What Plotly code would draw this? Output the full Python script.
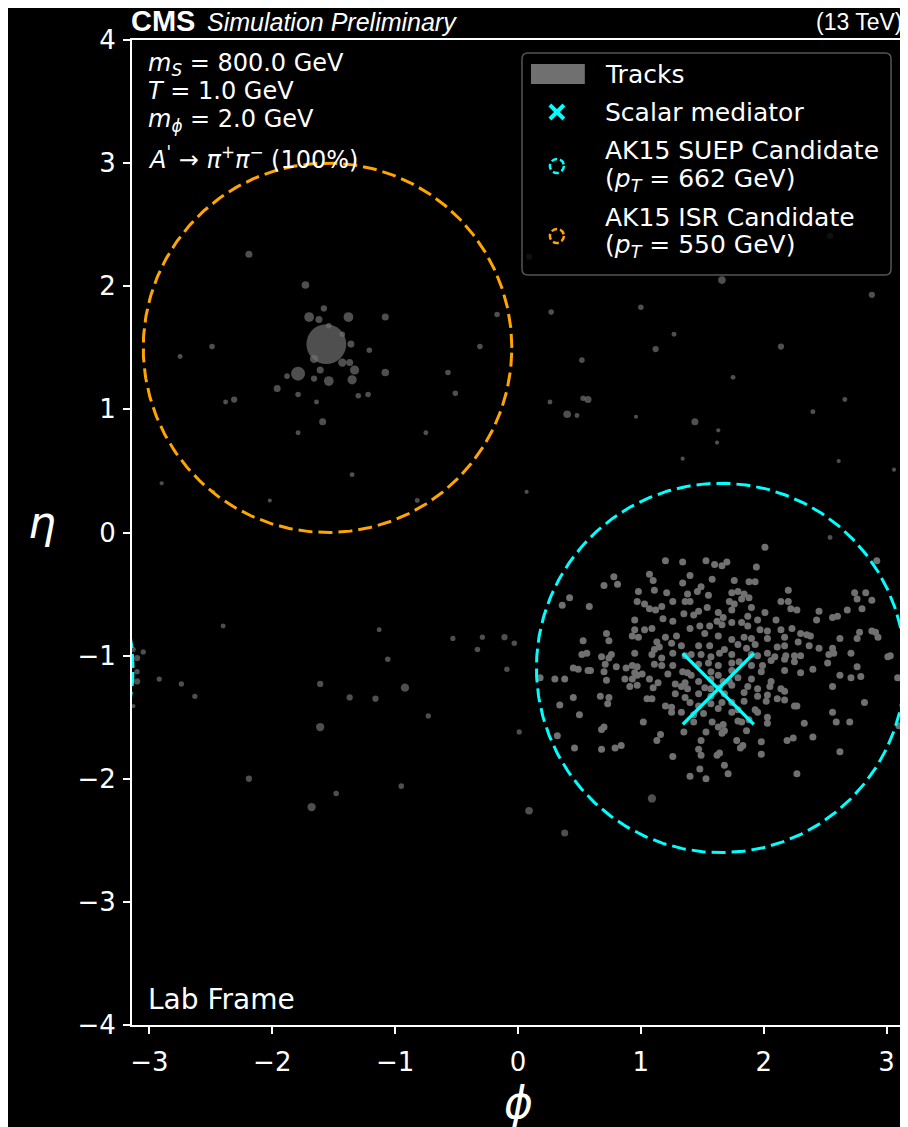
import numpy as np
import plotly.graph_objects as go

# ---------------- data ----------------
# dense SUEP track cluster (phi, eta)
suep_phi = [2.01,1.20,1.34,1.53,1.60,1.66,1.70,1.94,2.92,
 1.07,1.10,0.78,0.81,1.40,1.58,1.76,1.88,1.93,0.70,1.34,1.49,0.42,0.36,0.58,
 0.98,1.11,1.21,1.38,1.46,1.55,1.74,1.79,1.84,2.20,2.74,2.83,0.97,1.03,1.07,1.12,1.17,1.26,1.36,1.40,1.72,1.76,1.82,1.88,2.14,2.20,2.76,2.88,
 0.95,1.18,1.26,1.35,1.43,1.47,1.54,1.63,1.67,1.74,1.90,2.01,2.10,2.22,2.27,2.45,2.68,2.80,2.43,2.56,2.60,1.62,1.74,1.82,1.87,1.95,
 0.72,0.95,1.03,1.09,0.93,0.98,1.40,1.48,1.56,1.66,1.87,1.97,2.03,2.14,2.23,2.30,2.35,2.38,2.78,2.88,2.91,2.93,2.76,2.62,0.53,0.74,1.20,1.29,1.52,1.63,1.74,1.84,1.90,2.03,2.17,
 1.13,1.15,1.11,1.25,1.33,1.47,1.56,1.68,1.79,1.86,1.93,2.11,2.17,2.28,2.37,2.45,2.56,2.57,2.71,0.52,0.56,0.68,0.74,0.76,0.95,1.09,1.17,1.26,1.36,1.41,1.49,1.57,1.64,1.74,1.90,1.95,2.03,2.09,2.18,2.25,2.30,2.53,3.01,3.03,
 0.45,0.49,0.57,0.59,0.71,0.80,0.88,0.93,0.97,1.11,1.17,1.26,1.47,1.55,1.63,1.74,1.80,1.90,1.99,2.06,2.17,2.25,2.40,2.52,2.76,0.70,0.95,0.97,1.01,1.22,1.34,1.38,1.41,1.57,1.74,1.98,
 0.18,0.30,0.38,0.72,0.87,0.93,1.07,1.14,1.28,1.36,1.47,1.57,1.63,1.67,1.72,1.79,1.90,2.06,2.17,2.30,2.62,2.71,2.79,3.09,0.91,0.97,1.10,1.33,1.38,1.52,1.57,1.64,1.74,1.87,1.95,2.05,2.14,2.17,2.56,
 0.67,0.74,1.05,1.09,1.28,1.36,1.47,1.57,1.68,1.84,1.95,2.03,2.11,2.17,1.84,0.45,0.34,0.73,1.20,1.25,1.40,1.47,1.57,1.66,1.74,2.02,2.25,2.27,2.82,
 0.50,1.25,1.33,1.43,1.51,1.63,1.74,1.79,1.93,1.95,2.03,2.56,1.02,1.43,1.58,1.67,1.79,1.82,1.88,2.03,2.33,2.59,2.70,3.10,
 0.68,0.70,0.32,1.35,1.53,1.63,1.68,1.66,1.86,2.19,2.24,2.40,1.13,1.16,1.49,1.78,1.98,0.46,0.68,0.79,0.84,1.47,1.64,1.62,1.81,1.83,1.98,2.62,1.26,1.49,
 1.68,1.48,1.71,1.40,1.53,2.27]
suep_eta = [-0.12,-0.23,-0.24,-0.23,-0.26,-0.27,-0.24,-0.28,-0.23,
 -0.34,-0.39,-0.36,-0.42,-0.35,-0.38,-0.39,-0.40,-0.40,-0.43,-0.41,-0.44,-0.53,-0.59,-0.60,
 -0.48,-0.47,-0.49,-0.50,-0.48,-0.51,-0.49,-0.48,-0.50,-0.47,-0.49,-0.49,-0.56,-0.58,-0.62,-0.63,-0.60,-0.56,-0.56,-0.56,-0.56,-0.58,-0.54,-0.53,-0.56,-0.56,-0.54,-0.55,
 -0.71,-0.70,-0.72,-0.66,-0.67,-0.64,-0.61,-0.65,-0.69,-0.63,-0.61,-0.65,-0.71,-0.62,-0.63,-0.64,-0.63,-0.62,-0.71,-0.69,-0.68,-0.72,-0.73,-0.73,-0.68,-0.71,
 -0.82,-0.79,-0.79,-0.78,-0.84,-0.85,-0.78,-0.76,-0.76,-0.75,-0.76,-0.79,-0.80,-0.79,-0.78,-0.82,-0.83,-0.84,-0.81,-0.80,-0.81,-0.85,-0.86,-0.86,-0.88,-0.88,-0.85,-0.84,-0.82,-0.84,-0.87,-0.85,-0.86,-0.86,-0.85,
 -0.89,-0.93,-0.95,-0.90,-0.92,-0.92,-0.92,-0.95,-0.91,-0.94,-0.91,-0.93,-0.92,-0.89,-0.92,-0.94,-0.94,-0.98,-0.98,-0.99,-0.98,-1.01,-1.02,-0.99,-0.98,-0.99,-1.02,-0.98,-1.00,-0.99,-0.99,-1.01,-0.98,-0.99,-0.99,-1.00,-0.98,-1.01,-1.00,-1.00,-1.00,-0.99,-1.01,-1.00,
 -1.10,-1.11,-1.12,-1.12,-1.07,-1.09,-1.10,-1.08,-1.09,-1.07,-1.08,-1.08,-1.07,-1.06,-1.08,-1.06,-1.05,-1.08,-1.08,-1.04,-1.03,-1.05,-1.11,-1.06,-1.09,-1.13,-1.14,-1.16,-1.15,-1.15,-1.13,-1.14,-1.16,-1.13,-1.12,-1.13,
 -1.18,-1.19,-1.19,-1.20,-1.19,-1.19,-1.19,-1.22,-1.23,-1.22,-1.21,-1.19,-1.16,-1.21,-1.21,-1.18,-1.19,-1.21,-1.12,-1.14,-1.16,-1.18,-1.17,-1.18,-1.25,-1.24,-1.26,-1.25,-1.27,-1.26,-1.27,-1.26,-1.24,-1.25,-1.27,-1.25,-1.27,-1.29,-1.25,
 -1.33,-1.34,-1.35,-1.35,-1.31,-1.34,-1.31,-1.33,-1.31,-1.30,-1.33,-1.32,-1.35,-1.36,-1.37,-1.34,-1.40,-1.39,-1.41,-1.42,-1.38,-1.41,-1.39,-1.38,-1.38,-1.37,-1.41,-1.41,-1.38,
 -1.48,-1.46,-1.46,-1.48,-1.47,-1.43,-1.46,-1.44,-1.44,-1.46,-1.50,-1.46,-1.54,-1.54,-1.54,-1.56,-1.53,-1.54,-1.52,-1.55,-1.55,-1.54,-1.54,-1.57,
 -1.60,-1.58,-1.65,-1.62,-1.62,-1.58,-1.61,-1.63,-1.61,-1.69,-1.67,-1.66,-1.69,-1.64,-1.69,-1.69,-1.70,-1.75,-1.76,-1.75,-1.73,-1.76,-1.79,-1.81,-1.75,-1.73,-1.80,-1.78,-1.82,-1.81,
 -1.89,-1.92,-1.96,-1.98,-2.00,-1.96]

# other tracks (phi, eta, pT in GeV)
other_phi = [-1.56,-2.19,-1.73,-1.70,-1.62,-1.58,-1.38,-1.08,-0.17,-2.49,-2.75,-1.21,-0.31,-1.54,-1.43,
 -1.36,-1.66,-1.43,-1.37,-1.33,-1.79,-1.88,-1.61,-1.66,-1.54,-1.35,-1.08,-1.96,-1.79,-1.64,-1.30,-1.22,
 -0.57,-0.51,-2.31,-2.38,-1.59,-1.79,-0.75,-1.35,-2.90,-2.02,-0.82,-2.48,0.07,
 1.66,2.88,0.27,1.00,1.27,1.12,0.52,2.14,1.75,0.26,0.53,0.57,0.40,0.48,0.96,1.44,1.63,1.62,1.34,
 2.40,2.66,2.61,3.06,2.54,0.09,2.54,
 -2.40,-3.05,-3.10,-3.10,-3.10,-3.13,-3.13,-2.92,-2.74,-2.63,-1.13,-1.06,-1.61,-1.37,-1.16,-0.92,
 -1.61,-0.73,-0.53,-0.29,-0.33,-0.11,-0.03,-0.09,0.01,-2.19,-1.48,-0.95,-1.68,0.09,0.38,1.09]
other_eta = [1.53,2.26,2.01,1.75,1.73,1.82,1.75,1.75,1.77,1.51,1.43,1.48,1.51,1.68,1.61,
 1.53,1.41,1.38,1.38,1.32,1.29,1.27,1.32,1.25,1.23,1.24,1.30,1.17,1.12,1.06,1.11,1.12,
 1.30,1.13,1.08,1.06,0.90,0.81,0.81,0.47,0.40,0.26,0.26,0.33,0.33,
 2.05,1.93,1.79,1.83,1.61,1.49,1.40,1.51,1.26,1.06,1.09,1.08,0.96,0.95,0.94,0.90,0.83,0.73,0.60,
 0.98,1.08,0.58,0.51,-0.04,2.24,2.41,
 -0.76,-0.97,-1.02,-1.13,-1.21,-0.95,-1.41,-1.19,-1.23,-1.33,-0.79,-1.03,-1.23,-1.34,-1.35,-1.26,
 -1.58,-1.49,-0.86,-0.85,-0.95,-0.85,-0.90,-1.11,-1.62,-2.00,-2.12,-2.06,-2.23,-2.26,-2.44,-2.16]
other_pt = [300,9.3,11,18,9.3,7.4,18,9.3,5.8,5.8,4.6,5.8,5.8,5.8,5.8,
 9.3,13,13,9.3,16,37,5.8,9.3,7.4,18,16,11,9.3,5.8,4.6,5.8,5.8,
 5.8,5.8,7.4,4.6,9.3,4.6,4.6,4.6,3.3,3.3,4.6,3.3,3.3,
 11,7.4,5.8,5.8,4.6,7.4,5.8,7.4,4.6,4.6,5.8,9.3,11,4.6,3.3,9.3,3.3,3.3,3.3,
 4.6,4.6,3.3,3.3,4.6,7.4,7.4,
 4.6,5.2,7.4,5.2,7.4,4.6,3.3,5.2,5.2,5.2,4.6,5.8,7.4,7.4,7.4,13,
 13,5.2,5.2,5.2,5.8,7.4,5.8,5.8,5.2,7.4,5.8,5.8,13,11,9.3,13]

# scalar mediator
med_phi = [1.63]
med_eta = [-1.27]

# AK15 jets
jet_labels = ["AK15 SUEP Candidate", "AK15 ISR Candidate"]
jet_phi = [1.65, -1.55]
jet_eta = [-1.10, 1.50]
jet_pt = [662, 550]
jet_R = 1.5

x_ticks = [-3, -2, -1, 0, 1, 2, 3]
y_ticks = [-4, -3, -2, -1, 0, 1, 2, 3, 4]

# ---------------- style ----------------
TRACK = "rgb(112,112,112)"
CYAN = "#00FFFF"
ORANGE = "#FFA500"
jet_colors = [CYAN, ORANGE]
FONT = "DejaVu Sans"
OFF = 8  # page body offset of the figure
W, H = 900, 1119
ML, MR, MT, MB = 124, 2, 32, 102
PW, PH = W - ML - MR, H - MT - MB


def px(x):
    return (x - OFF - ML) / PW


def py(y):
    return (H - MB - (y - OFF)) / PH


fig = go.Figure()

fig.add_trace(go.Scatter(
    x=suep_phi, y=suep_eta, mode="markers",
    marker=dict(size=7, color=TRACK, line=dict(width=0)),
    hoverinfo="skip", showlegend=False))

fig.add_trace(go.Scatter(
    x=other_phi, y=other_eta, mode="markers",
    marker=dict(size=[2.3 * np.sqrt(p) for p in other_pt], color=TRACK, line=dict(width=0)),
    hoverinfo="skip", showlegend=False))

theta = np.linspace(0, 2 * np.pi, 400)
for cphi, ceta, col in zip(jet_phi, jet_eta, jet_colors):
    for shift in (0.0, -2 * np.pi, 2 * np.pi):
        fig.add_trace(go.Scatter(
            x=cphi + shift + jet_R * np.cos(theta), y=ceta + jet_R * np.sin(theta),
            mode="lines", line=dict(color=col, width=3, dash="14px,6px"),
            hoverinfo="skip", showlegend=False))

fig.add_trace(go.Scatter(
    x=med_phi, y=med_eta, mode="markers",
    marker=dict(symbol="x-thin", size=71, color=CYAN, line=dict(width=3.5, color=CYAN)),
    hoverinfo="skip", showlegend=False))

axis_common = dict(showgrid=False, zeroline=False, showline=True, linecolor="white",
                   linewidth=2, mirror=True, ticks="outside", ticklen=7, tickwidth=1.5,
                   tickcolor="white", tickfont=dict(family=FONT, size=26, color="white"))

fig.update_layout(
    width=W, height=H,
    margin=dict(l=ML, r=MR, t=MT, b=MB),
    paper_bgcolor="black", plot_bgcolor="black",
    showlegend=False,
    xaxis=dict(range=[-np.pi, np.pi], tickvals=x_ticks, ticklabelstandoff=6, **axis_common),
    yaxis=dict(range=[-4, 4], tickvals=y_ticks, ticklabelstandoff=2, **axis_common),
)

# ---------------- custom legend ----------------
x0, x1 = px(523), px(893)
yb, yt = py(275), py(53)
rx, ry = 6 / PW, 6 / PH
path = (f"M {x0+rx},{yt} L {x1-rx},{yt} Q {x1},{yt} {x1},{yt-ry} L {x1},{yb+ry} "
        f"Q {x1},{yb} {x1-rx},{yb} L {x0+rx},{yb} Q {x0},{yb} {x0},{yb+ry} "
        f"L {x0},{yt-ry} Q {x0},{yt} {x0+rx},{yt} Z")
shapes = [dict(type="path", path=path, xref="paper", yref="paper",
               fillcolor="rgba(0,0,0,0.8)", line=dict(color="rgb(85,85,85)", width=1.5),
               layer="above")]
shapes.append(dict(type="rect", xref="paper", yref="paper", x0=px(532), x1=px(586),
                   y0=py(84), y1=py(64), fillcolor=TRACK, line=dict(width=0), layer="above"))
for (a, b) in [(-7, 7), (7, -7)]:
    shapes.append(dict(type="line", xref="paper", yref="paper", xsizemode="pixel", ysizemode="pixel",
                       xanchor=px(558), yanchor=py(112), x0=-7, x1=7, y0=a, y1=b,
                       line=dict(color=CYAN, width=4), layer="above"))
for col, cy in zip(jet_colors, [166, 236]):
    shapes.append(dict(type="circle", xref="paper", yref="paper", xsizemode="pixel", ysizemode="pixel",
                       xanchor=px(558), yanchor=py(cy), x0=-7, x1=7, y0=-7, y1=7,
                       line=dict(color=col, width=2.5, dash="6px,3px"), layer="above"))

pt_txt = "(<i>p</i><sub><i>T</i></sub> = {} GeV)"
leg_text = [("Tracks", 74), ("Scalar mediator", 112),
            (jet_labels[0], 150), (pt_txt.format(jet_pt[0]), 180),
            (jet_labels[1], 218), (pt_txt.format(jet_pt[1]), 246)]

ann = []
for t, yy in leg_text:
    ann.append(dict(text=t, x=px(604), y=py(yy), xref="paper", yref="paper",
                    xanchor="left", yanchor="middle", showarrow=False,
                    font=dict(family=FONT, size=25, color="white")))

info = [("<i>m</i><sub><i>S</i></sub> = 800.0 GeV", 64),
        ("<i>T</i> = 1.0 GeV", 91),
        ("<i>m</i><sub><i>ϕ</i></sub> = 2.0 GeV", 121),
        ("<i>A</i><sup>'</sup> → <i>π</i><sup>+</sup><i>π</i><sup>−</sup> (100%)", 158)]
for t, yy in info:
    ann.append(dict(text=t, x=px(146), y=py(yy), xref="paper", yref="paper",
                    xanchor="left", yanchor="middle", showarrow=False,
                    font=dict(family=FONT, size=24, color="white")))

ann.append(dict(text="Lab Frame", x=px(146), y=py(999), xref="paper", yref="paper",
                xanchor="left", yanchor="middle", showarrow=False,
                font=dict(family=FONT, size=28, color="white")))

ann.append(dict(text="<b>CMS</b>", x=px(129), y=py(21), xref="paper", yref="paper",
                xanchor="left", yanchor="middle", showarrow=False,
                font=dict(family="Liberation Sans", size=29, color="white")))
ann.append(dict(text="<i>Simulation Preliminary</i>", x=px(205), y=py(22), xref="paper", yref="paper",
                xanchor="left", yanchor="middle", showarrow=False,
                font=dict(family="Liberation Sans", size=25, color="white")))
ann.append(dict(text="(13 TeV)", x=px(907), y=py(22), xref="paper", yref="paper",
                xanchor="right", yanchor="middle", showarrow=False,
                font=dict(family="Liberation Sans", size=23, color="white")))

ann.append(dict(text="<i>ϕ</i>", x=px(519), y=py(1102), xref="paper", yref="paper",
                xanchor="center", yanchor="middle", showarrow=False,
                font=dict(family=FONT, size=44, color="white")))
ann.append(dict(text="<i>η</i>", x=px(42), y=py(522), xref="paper", yref="paper",
                xanchor="center", yanchor="middle", showarrow=False,
                font=dict(family=FONT, size=44, color="white")))

fig.update_layout(shapes=shapes, annotations=ann)

fig.write_html("out.html")
